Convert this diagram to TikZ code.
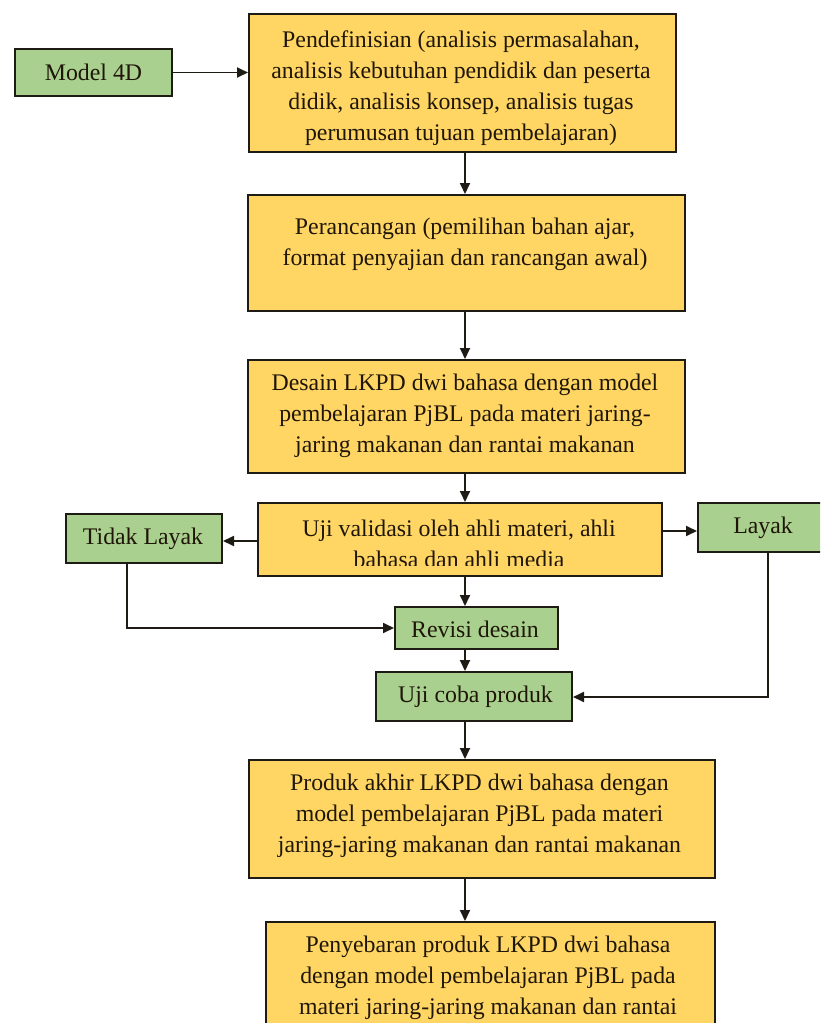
\documentclass[tikz,border=0pt]{standalone}
\usepackage{fontspec}
\setmainfont{Liberation Serif}
\usetikzlibrary{arrows.meta,calc}
\definecolor{boxyellow}{HTML}{FFD664}
\definecolor{boxgreen}{HTML}{A9D08E}
\definecolor{edgec}{HTML}{1E1A14}
\definecolor{textc}{HTML}{1F1608}
\begin{document}
\begin{tikzpicture}[x=1pt,y=-1pt,
  ybox/.style={draw=edgec, line width=2pt, fill=boxyellow, inner sep=0pt},
  gbox/.style={draw=edgec, line width=2pt, fill=boxgreen, inner sep=0pt},
  txt/.style={align=center, inner sep=0pt, text=textc, font=\fontsize{23.8}{31}\selectfont},
  conn/.style={draw=edgec, line width=1.8pt, -{Triangle[length=11pt,width=10pt]}},
  line/.style={draw=edgec, line width=1.8pt}]
\useasboundingbox (0,0) rectangle (820,1023);
\clip (0,0) rectangle (820,1023);
\fill[white] (0,0) rectangle (820,1023);

% boxes
\node[gbox, minimum width=157pt, minimum height=47pt] (m4d) at (93.5,72.5) {};
\node[txt] (m4dt) at (93.5,72.5) {Model 4D};

\node[ybox, minimum width=427pt, minimum height=138pt] (def) at (462.5,83) {};
\node[txt] (deft) at (461,88) {Pendefinisian (analisis permasalahan,\\analisis kebutuhan pendidik dan peserta\\didik, analisis konsep, analisis tugas\\perumusan tujuan pembelajaran)};

\node[ybox, minimum width=437pt, minimum height=116pt] (ran) at (466.5,253) {};
\node[txt] (rant) at (465,244) {Perancangan (pemilihan bahan ajar,\\format penyajian dan rancangan awal)};

\node[ybox, minimum width=437pt, minimum height=113pt] (des) at (466.5,416.5) {};
\node[txt] (dest) at (465,416) {Desain LKPD dwi bahasa dengan model\\pembelajaran PjBL pada materi jaring-\\jaring makanan dan rantai makanan};

\node[ybox, minimum width=404pt, minimum height=73pt] (uji) at (460,539.5) {};
\begin{scope}
  \clip (258,503) rectangle (662,565);
  \node[txt] (ujit) at (459,544) {Uji validasi oleh ahli materi, ahli\\bahasa dan ahli media};
\end{scope}

\node[gbox, minimum width=156pt, minimum height=49pt] (tl) at (144,538.5) {};
\node[txt] (tlt) at (143,539) {Tidak Layak};

\node[gbox, minimum width=130pt, minimum height=49pt] (lay) at (763,527.5) {};
\node[txt] (layt) at (763,528) {Layak};

\node[gbox, minimum width=163pt, minimum height=42pt] (rev) at (476.5,628) {};
\node[txt] (revt) at (475,629) {Revisi desain};

\node[gbox, minimum width=196pt, minimum height=49pt] (ujc) at (474,696.5) {};
\node[txt] (ujct) at (475.5,697) {Uji coba produk};

\node[ybox, minimum width=466pt, minimum height=118pt] (pa) at (482,819) {};
\node[txt] (pat) at (479.5,816) {Produk akhir LKPD dwi bahasa dengan\\model pembelajaran PjBL pada materi\\jaring-jaring makanan dan rantai makanan};

\node[ybox, minimum width=449pt, minimum height=150pt] (pen) at (490.5,997) {};
\node[txt] (pent) at (488,977.5) {Penyebaran produk LKPD dwi bahasa\\dengan model pembelajaran PjBL pada\\materi jaring-jaring makanan dan rantai};

% column of vertical connectors
\coordinate (cx) at (465,0);
\coordinate (tlx) at (127,0);
\coordinate (layx) at (768,0);

\draw[conn] (m4d.east) -- (m4d.east -| def.west);
\draw[conn] (def.south -| cx) -- (ran.north -| cx);
\draw[conn] (ran.south -| cx) -- (des.north -| cx);
\draw[conn] (des.south -| cx) -- (uji.north -| cx);
\draw[conn] (uji.south -| cx) -- (rev.north -| cx);
\draw[conn] (rev.south -| cx) -- (ujc.north -| cx);
\draw[conn] (ujc.south -| cx) -- (pa.north -| cx);
\draw[conn] (pa.south -| cx) -- (pen.north -| cx);

\draw[conn] ($(uji.west)+(0,1.5)$) -- ($(tl.east)+(0,2.5)$);
\draw[conn] ($(uji.east)+(0,-8.5)$) -- ($(lay.west)+(0,3.5)$);

\draw[conn] (tl.south -| tlx) |- (rev.west);
\draw[conn] (lay.south -| layx) |- ($(ujc.east)+(0,0.5)$);
\end{tikzpicture}
\end{document}
